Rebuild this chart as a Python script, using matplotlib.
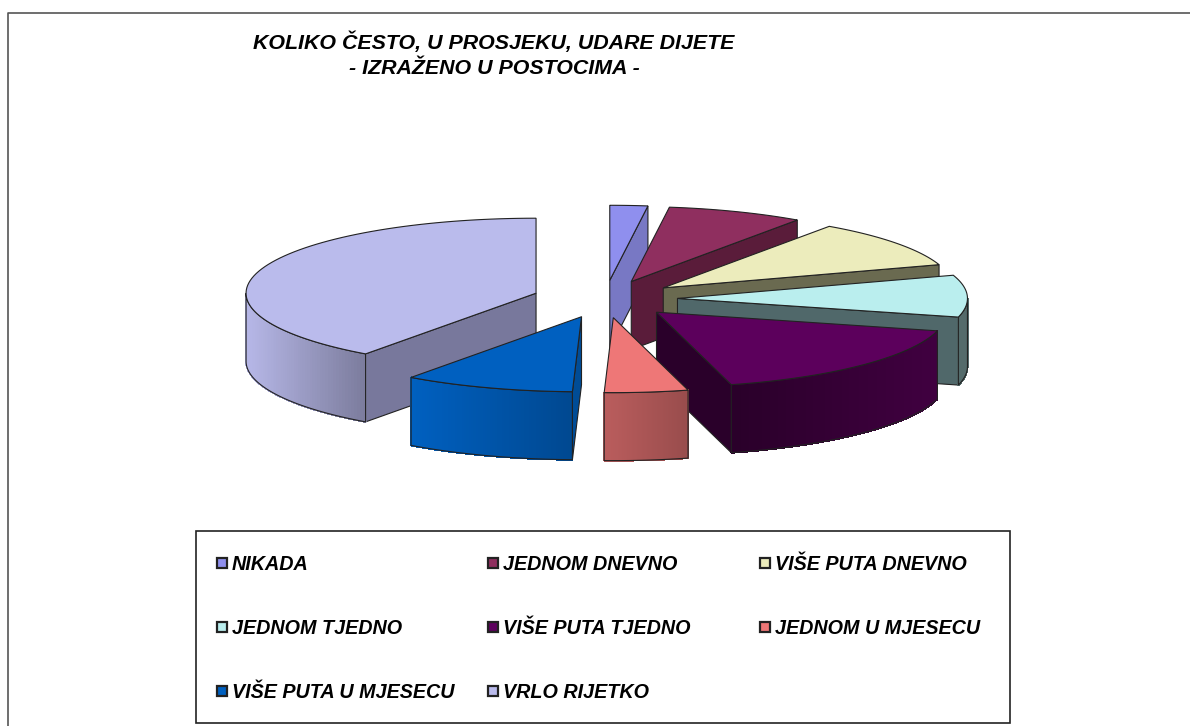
import numpy as np
import matplotlib.pyplot as plt
from matplotlib.patches import Polygon, Rectangle
from matplotlib.colors import to_rgb

# Data (percent)
categories = ['NIKADA', 'JEDNOM DNEVNO', 'VIŠE PUTA DNEVNO', 'JEDNOM TJEDNO',
              'VIŠE PUTA TJEDNO', 'JEDNOM U MJESECU', 'VIŠE PUTA U MJESECU', 'VRLO RIJETKO']
values = [2.1, 7.6, 10.3, 9.0, 16.85, 4.65, 9.5, 40.0]

# Styles
top_colors = ['#8F8FEE', '#8F2F5F', '#ECECBC', '#BAEEEE', '#5C005C', '#EE7777', '#0060C0', '#BABBEC']
face_colors = ['#7878C4', '#5A1C3A', '#6A6A50', '#50686A', '#2A002A', '#995050', '#004C96', '#78789C']
wall_shade = [(1, 1), (1, 1), (1, 1), (0.45, 0.45), (0.45, 0.7), (0.78, 0.64), (1.0, 0.75), (0.98, 0.66)]
draw_order = [0, 1, 2, 3, 4, 7, 6, 5]

# Pie geometry in pixels
cx, cy = 605, 299
rx, ry = 290, 75
explode = 0.25
depth = 68
edge = '#222222'


def ellipse_pt(deg, ax0, ay0):
    t = np.radians(deg)
    return ax0 + rx * np.sin(t), ay0 - ry * np.cos(t)


def draw_slice(ax, a0, a1, top, face, shade):
    mid = (a0 + a1) / 2
    ox = cx + explode * rx * np.sin(np.radians(mid))
    oy = cy - explode * ry * np.cos(np.radians(mid))
    arc = np.linspace(a0, a1, 80)
    arc_x, arc_y = ellipse_pt(arc, ox, oy)

    # cut faces
    if a0 >= 180:
        x, y = ellipse_pt(a0, ox, oy)
        ax.add_patch(Polygon([(ox, oy), (x, y), (x, y + depth), (ox, oy + depth)],
                             fc=face, ec=edge, lw=0.8))
    if a1 <= 180:
        x, y = ellipse_pt(a1, ox, oy)
        ax.add_patch(Polygon([(ox, oy), (x, y), (x, y + depth), (ox, oy + depth)],
                             fc=face, ec=edge, lw=0.8))

    # outer wall, shaded left to right
    w0, w1 = max(a0, 90), min(a1, 270)
    if w1 > w0:
        wall = np.linspace(w0, w1, 70)
        wx, wy = ellipse_pt(wall, ox, oy)
        base = np.array(to_rgb(top))
        lo, hi = wx.min(), wx.max()
        for i in range(len(wall) - 1):
            frac = ((wx[i] + wx[i + 1]) / 2 - lo) / (hi - lo)
            col = base * (shade[0] + (shade[1] - shade[0]) * frac)
            ax.add_patch(Polygon([(wx[i], wy[i]), (wx[i + 1], wy[i + 1]),
                                  (wx[i + 1], wy[i + 1] + depth), (wx[i], wy[i] + depth)],
                                 fc=col, ec=col, lw=0.8, antialiased=False))
        outline = list(zip(wx, wy)) + list(zip(wx[::-1], wy[::-1] + depth))
        ax.add_patch(Polygon(outline, fc='none', ec=edge, lw=0.8))

    # top surface
    ax.add_patch(Polygon([(ox, oy)] + list(zip(arc_x, arc_y)), fc=top, ec=edge, lw=0.8))


fig = plt.figure(figsize=(11.9, 7.26), dpi=100)
ax = fig.add_axes([0, 0, 1, 1])
ax.set_xlim(0, 1190)
ax.set_ylim(726, 0)
ax.axis('off')

# Chart frame, runs off the right and bottom edges
ax.plot([7.5, 7.5, 1190], [726, 12.5, 12.5], color='#555555', lw=1.2)

font = dict(family='Liberation Sans', weight='bold', style='italic', color='black')
ax.text(494, 42, 'KOLIKO ČESTO, U PROSJEKU, UDARE DIJETE', ha='center', va='center', fontsize=15.4, **font)
ax.text(494, 68, '- IZRAŽENO U POSTOCIMA -', ha='center', va='center', fontsize=15.4, **font)

# Slices, clockwise from 12 o'clock
bounds = np.concatenate([[0], np.cumsum(values)]) / np.sum(values) * 360
for i in draw_order:
    draw_slice(ax, bounds[i], bounds[i + 1], top_colors[i], face_colors[i], wall_shade[i])

# Legend box
ax.add_patch(Rectangle((196, 531), 814, 192, fc='white', ec='#222222', lw=1.2))
col_x = [217, 488, 760]
row_y = [563, 627, 691]
for i, name in enumerate(categories):
    x = col_x[i % 3]
    y = row_y[i // 3]
    ax.add_patch(Rectangle((x, y - 5), 10, 10, fc=top_colors[i], ec='#222222', lw=1.6))
    ax.text(x + 15, y + 1.5, name, ha='left', va='center', fontsize=14.2, **font)

fig.savefig('out.png', dpi=100)
